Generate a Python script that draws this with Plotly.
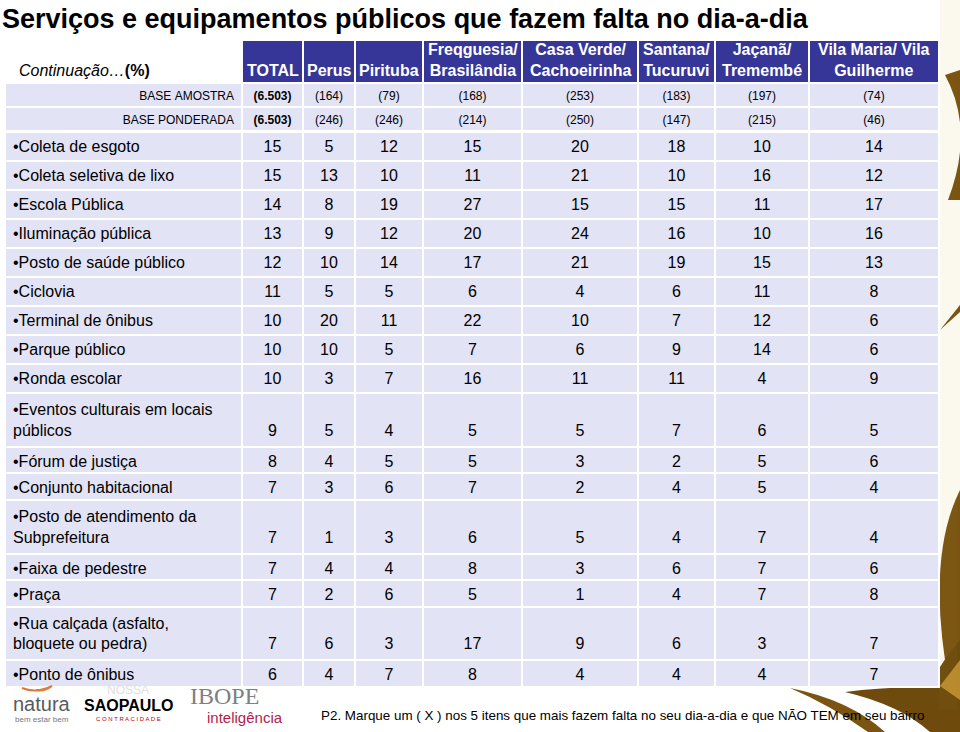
import plotly.graph_objects as go

# ---------------- data ----------------
districts = ["TOTAL", "Perus", "Pirituba", "Freqguesia/<br>Brasilândia",
             "Casa Verde/<br>Cachoeirinha", "Santana/<br>Tucuruvi",
             "Jaçanã/<br>Tremembé", "Vila Maria/ Vila<br>Guilherme"]
base_labels = ["BASE AMOSTRA", "BASE PONDERADA"]
base_amostra = ["6.503", "164", "79", "168", "253", "183", "197", "74"]
base_ponderada = ["6.503", "246", "246", "214", "250", "147", "215", "46"]

items = ["Coleta de esgoto", "Coleta seletiva de lixo", "Escola Pública",
         "Iluminação pública", "Posto de saúde público", "Ciclovia",
         "Terminal de ônibus", "Parque público", "Ronda escolar",
         "Eventos culturais em locais<br>públicos", "Fórum de justiça",
         "Conjunto habitacional", "Posto de atendimento da<br>Subprefeitura",
         "Faixa de pedestre", "Praça",
         "Rua calçada (asfalto,<br>bloquete ou pedra)", "Ponto de ônibus"]

total       = [15, 15, 14, 13, 12, 11, 10, 10, 10, 9, 8, 7, 7, 7, 7, 7, 6]
perus       = [5, 13, 8, 9, 10, 5, 20, 10, 3, 5, 4, 3, 1, 4, 2, 6, 4]
pirituba    = [12, 10, 19, 12, 14, 5, 11, 5, 7, 4, 5, 6, 3, 4, 6, 3, 7]
freguesia   = [15, 11, 27, 20, 17, 6, 22, 7, 16, 5, 5, 7, 6, 8, 5, 17, 8]
casa_verde  = [20, 21, 15, 24, 21, 4, 10, 6, 11, 5, 3, 2, 5, 3, 1, 9, 4]
santana     = [18, 10, 15, 16, 19, 6, 7, 9, 11, 7, 2, 4, 4, 6, 4, 6, 4]
jacana      = [10, 16, 11, 10, 15, 11, 12, 14, 4, 6, 5, 5, 7, 7, 7, 3, 4]
vila_maria  = [14, 12, 17, 16, 13, 8, 6, 6, 9, 5, 6, 4, 4, 6, 8, 7, 7]

series = [total, perus, pirituba, freguesia, casa_verde, santana, jacana, vila_maria]

title = "Serviços e equipamentos públicos que fazem falta no dia-a-dia"
subtitle = "<i>Continuação…</i><b>(%)</b>"
footnote = "P2. Marque um ( X ) nos 5 itens que mais fazem falta no seu dia-a-dia e que NÃO TEM em seu bairro"

# ---------------- styling ----------------
W, H = 960, 732
FONT = "Liberation Sans, Arial, sans-serif"
HEAD_BLUE = "#363699"
CELL_FILL = "#e3e3f6"
col_widths = [237, 61, 52, 68, 99, 116, 77, 94, 130]
x0, x1 = 5, 940
HEAD_TOP, HEAD_H = 40, 43
DATA_TOP = 132          # first data row top (px)
ROW_H_TOP = 29          # row height in upper block
ROW_H_LOW = 26.5        # single-line row height in lower block
SPLIT = 9               # rows in upper block


def py(px):
    return 1 - px / H


fig = go.Figure()

# --- data rows (two blocks, each with a transparent 1px header band) ---
label_col = ["•" + it for it in items]
value_cols = []
for s in series:
    col = []
    for it, v in zip(items, s):
        col.append(("\u00a0<br>" if "<br>" in it else "") + str(v))
    value_cols.append(col)
all_cols = [label_col] + value_cols

blocks = [(0, SPLIT, DATA_TOP, ROW_H_TOP),
          (SPLIT, len(items), DATA_TOP + SPLIT * ROW_H_TOP, ROW_H_LOW)]
for start, stop, top, rh in blocks:
    fig.add_trace(go.Table(
        domain=dict(x=[x0 / W, x1 / W], y=[py(710), py(top - 1)]),
        columnwidth=col_widths,
        header=dict(values=[""] * 9, height=1, line=dict(width=0),
                    fill_color="rgba(0,0,0,0)"),
        cells=dict(values=[c[start:stop] for c in all_cols], fill_color=CELL_FILL,
                   line=dict(color="white", width=2),
                   align=["left"] + ["center"] * 8,
                   font=dict(family=FONT, size=16, color="black"),
                   height=rh),
    ))

# --- header + base rows table ---
header_fill = ["white"] + [HEAD_BLUE] * len(districts)
base_cols = [[b.replace(" ", "\u00a0") for b in base_labels]]
for i in range(len(districts)):
    base_cols.append([f"({base_amostra[i]})", f"({base_ponderada[i]})"])
base_weight = ["normal", "bold"] + ["normal"] * (len(districts) - 1)

fig.add_trace(go.Table(
    domain=dict(x=[x0 / W, x1 / W], y=[py(DATA_TOP + 1), py(HEAD_TOP)]),
    columnwidth=col_widths,
    header=dict(values=[""] * 9, fill_color=header_fill,
                line=dict(color="white", width=2),
                height=HEAD_H),
    cells=dict(values=base_cols, fill_color=CELL_FILL,
               line=dict(color="white", width=2),
               align=["right"] + ["center"] * 8,
               font=dict(family=FONT, size=12, color="black", weight=base_weight),
               height=24),
))

# header labels placed at the column centres derived from the column widths
annotations = []
edges = [x0]
for w in col_widths:
    edges.append(edges[-1] + w)
for i, d in enumerate(districts):
    cx = (edges[i + 1] + edges[i + 2]) / 2
    two = "<br>" in d
    annotations.append(dict(
        text="<b>" + d.replace("<br>", "</b><br><b>") + "</b>",
        x=cx / W, y=py(60 if two else 70), xref="paper", yref="paper",
        xanchor="center", yanchor="middle", showarrow=False,
        font=dict(family=FONT, size=16, color="white")))
annotations.append(dict(text=subtitle, x=17 / W, y=py(70), xref="paper", yref="paper",
                        xanchor="left", yanchor="middle", showarrow=False,
                        font=dict(family=FONT, size=16, color="black")))

# --- decorative leaves (background ornament) ---
shapes = [
    dict(type="rect", xref="paper", yref="paper", x0=940 / W, x1=1, y0=0, y1=1,
         fillcolor="#fbf8ee", line=dict(width=0), layer="below"),
    dict(type="path", xref="paper", yref="paper",
         path=f"M {945/W} {py(75)} Q {975/W} {py(130)} {948/W} {py(200)} L {960/W} {py(200)} L {960/W} {py(70)} Z",
         fillcolor="#7a5410", line=dict(width=0), layer="below"),
    dict(type="path", xref="paper", yref="paper",
         path=f"M {940/W} {py(330)} L {960/W} {py(305)} L {960/W} {py(312)} Z",
         fillcolor="#7a5410", line=dict(width=0), layer="below"),
    dict(type="path", xref="paper", yref="paper",
         path=f"M {960/W} {py(490)} Q {925/W} {py(560)} {950/W} {py(690)} L {960/W} {py(690)} Z",
         fillcolor="#7a5410", line=dict(width=0), layer="below"),
    dict(type="path", xref="paper", yref="paper",
         path=f"M {790/W} {py(688)} Q {850/W} {py(700)} {885/W} {py(732)} L {868/W} {py(732)} Q {830/W} {py(705)} {790/W} {py(688)} Z",
         fillcolor="#7a5410", line=dict(width=0), layer="below"),
    dict(type="path", xref="paper", yref="paper",
         path=f"M {845/W} {py(692)} Q {900/W} {py(705)} {930/W} {py(732)} L {960/W} {py(732)} L {960/W} {py(640)} Q {935/W} {py(670)} {930/W} {py(688)} Q {890/W} {py(686)} {845/W} {py(692)} Z",
         fillcolor="#6e4a0c", line=dict(width=0), layer="below"),
    dict(type="path", xref="paper", yref="paper",
         path=f"M {940/W} {py(686)} L {960/W} {py(700)} L {960/W} {py(660)} Z",
         fillcolor="#b88a2a", line=dict(width=0), layer="below"),
    # natura swirl
    dict(type="path", xref="paper", yref="paper",
         path=f"M {22/W} {py(688)} Q {36/W} {py(694)} {52/W} {py(686)} Q {44/W} {py(692)} {36/W} {py(690)}",
         line=dict(color="#e07a3a", width=2)),
]

annotations += [
    dict(text=f"<b>{title}</b>", x=0, y=py(19), xref="paper", yref="paper",
         xanchor="left", yanchor="middle", showarrow=False,
         font=dict(family=FONT, size=27, color="black")),
    dict(text=footnote, x=319 / W, y=py(715), xref="paper", yref="paper",
         xanchor="left", yanchor="middle", showarrow=False,
         font=dict(family=FONT, size=13.4, color="black")),
    # logos rendered as text
    dict(text="natura", x=42 / W, y=py(704), xref="paper", yref="paper",
         xanchor="center", yanchor="middle", showarrow=False,
         font=dict(family=FONT, size=20, color="#5a5a5a")),
    dict(text="bem estar bem", x=42 / W, y=py(719), xref="paper", yref="paper",
         xanchor="center", yanchor="middle", showarrow=False,
         font=dict(family=FONT, size=8, color="#777777")),
    dict(text="NOSSA", x=128 / W, y=py(690), xref="paper", yref="paper",
         xanchor="center", yanchor="middle", showarrow=False,
         font=dict(family=FONT, size=12, color="#e0e0e0")),
    dict(text="<b>SAOPAULO</b>", x=128 / W, y=py(705), xref="paper", yref="paper",
         xanchor="center", yanchor="middle", showarrow=False,
         font=dict(family=FONT, size=16, color="black")),
    dict(text="C O N T R A C I D A D E", x=128 / W, y=py(719), xref="paper", yref="paper",
         xanchor="center", yanchor="middle", showarrow=False,
         font=dict(family=FONT, size=6, color="#c00000")),
    dict(text="IBOPE", x=224 / W, y=py(696), xref="paper", yref="paper",
         xanchor="center", yanchor="middle", showarrow=False,
         font=dict(family="Liberation Serif, serif", size=24, color="#808080")),
    dict(text="inteligência", x=245 / W, y=py(717), xref="paper", yref="paper",
         xanchor="center", yanchor="middle", showarrow=False,
         font=dict(family=FONT, size=15, color="#b01e4a")),
]

fig.update_layout(
    width=W, height=H,
    margin=dict(l=0, r=0, t=0, b=0),
    paper_bgcolor="white", plot_bgcolor="white",
    shapes=shapes, annotations=annotations,
    showlegend=False,
)

fig.write_html("out.html", config={"displayModeBar": False},
               post_script="document.body.style.margin='0';document.body.style.overflow='hidden';")
